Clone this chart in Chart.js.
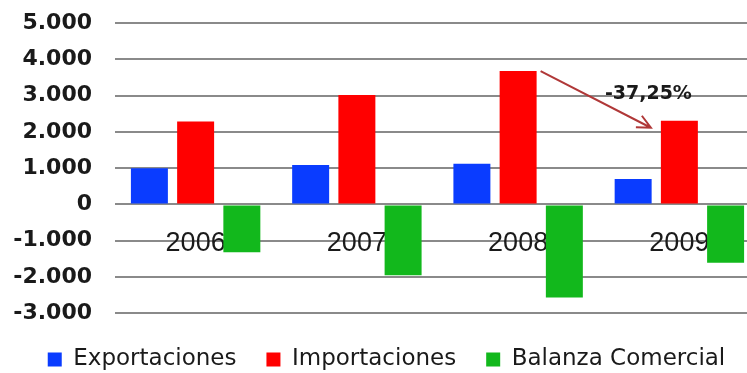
<!DOCTYPE html>
<html>
<head>
<meta charset="utf-8">
<script src="https://cdn.jsdelivr.net/npm/chart.js@4"></script>
<style>
  html, body { margin: 0; padding: 0; background: #fff; overflow: hidden; }
  #marco { width: 747px; height: 373px; overflow: hidden; }
  #caja { width: 774px; height: 394px; margin-top: -13px; }
</style>
</head>
<body>
<div id="marco"><div id="caja"><canvas id="grafico"></canvas></div></div>
<script>
// Balanza comercial 2006-2009 (millones)
const anos = ['2006', '2007', '2008', '2009'];
const exportaciones = [1000, 1090, 1120, 700];
const importaciones = [2290, 3020, 3680, 2309.2];
const balanza = [-1320, -1950, -2570, -1610];
const marcasY = [-3000, -2000, -1000, 0, 1000, 2000, 3000, 4000, 5000];

function formatoMiles(v) {
  const s = Math.abs(v).toString().replace(/\B(?=(\d{3})+(?!\d))/g, '.');
  return (v < 0 ? '-' : '') + s;
}

// variacion de importaciones 2008 -> 2009
const variacion = ((importaciones[3] - importaciones[2]) / importaciones[2] * 100)
  .toFixed(2).replace('.', ',') + '%';

const flechaVariacion = {
  id: 'flechaVariacion',
  afterDatasetsDraw(chart) {
    const meta = chart.getDatasetMeta(1);
    const a = meta.data[2];
    const b = meta.data[3];
    const x1 = a.x + a.width / 2 + 4, y1 = a.y;
    const x2 = b.x - b.width / 2 - 10, y2 = b.y + 7;
    const ang = Math.atan2(y2 - y1, x2 - x1);
    const ctx = chart.ctx;
    ctx.save();
    ctx.strokeStyle = '#b03838';
    ctx.lineWidth = 2;
    ctx.beginPath();
    ctx.moveTo(x1, y1);
    ctx.lineTo(x2, y2);
    ctx.moveTo(x2 - 15 * Math.cos(ang - 0.45), y2 - 15 * Math.sin(ang - 0.45));
    ctx.lineTo(x2, y2);
    ctx.lineTo(x2 - 15 * Math.cos(ang + 0.45), y2 - 15 * Math.sin(ang + 0.45));
    ctx.stroke();
    ctx.fillStyle = '#1a1a1a';
    ctx.font = 'bold 19px "DejaVu Sans"';
    ctx.textBaseline = 'middle';
    ctx.fillText(variacion, b.x - b.width / 2 - 56, y1 + 23);
    ctx.restore();
  }
};

new Chart(document.getElementById('grafico'), {
  type: 'bar',
  data: {
    labels: anos,
    datasets: [
      { label: 'Exportaciones', data: exportaciones, backgroundColor: '#0a3cff' },
      { label: 'Importaciones', data: importaciones, backgroundColor: '#ff0000' },
      { label: 'Balanza Comercial', data: balanza, backgroundColor: '#12b81c' }
    ]
  },
  options: {
    responsive: true,
    maintainAspectRatio: false,
    animation: false,
    categoryPercentage: 0.86,
    barPercentage: 0.8,
    layout: { padding: { left: 13, right: 14, top: 9, bottom: 0 } },
    plugins: {
      tooltip: { enabled: false },
      legend: {
        position: 'bottom',
        title: { display: true, text: '', padding: 0, font: { size: 4, lineHeight: 1.2 } },
        labels: {
          boxWidth: 14,
          boxHeight: 14,
          padding: 30,
          color: '#1a1a1a',
          font: { family: 'DejaVu Sans', size: 23 }
        }
      }
    },
    scales: {
      x: {
        position: { y: 0 },
        afterFit: s => { s.height = 0; },
        grid: { display: false },
        border: { display: false },
        ticks: {
          padding: 15,
          color: '#1a1a1a',
          font: { family: 'Liberation Sans', size: 27 }
        }
      },
      y: {
        min: marcasY[0],
        max: marcasY[marcasY.length - 1],
        afterBuildTicks: s => { s.ticks = marcasY.map(v => ({ value: v })); },
        afterFit: s => { s.width = 102; },
        grid: { color: '#8a8a8a', lineWidth: 2, drawTicks: false },
        border: { display: false },
        ticks: {
          padding: 23,
          color: '#1a1a1a',
          font: { family: 'DejaVu Sans', size: 22, weight: 'bold' },
          callback: v => formatoMiles(v)
        }
      }
    }
  },
  plugins: [flechaVariacion]
});
</script>
</body>
</html>
